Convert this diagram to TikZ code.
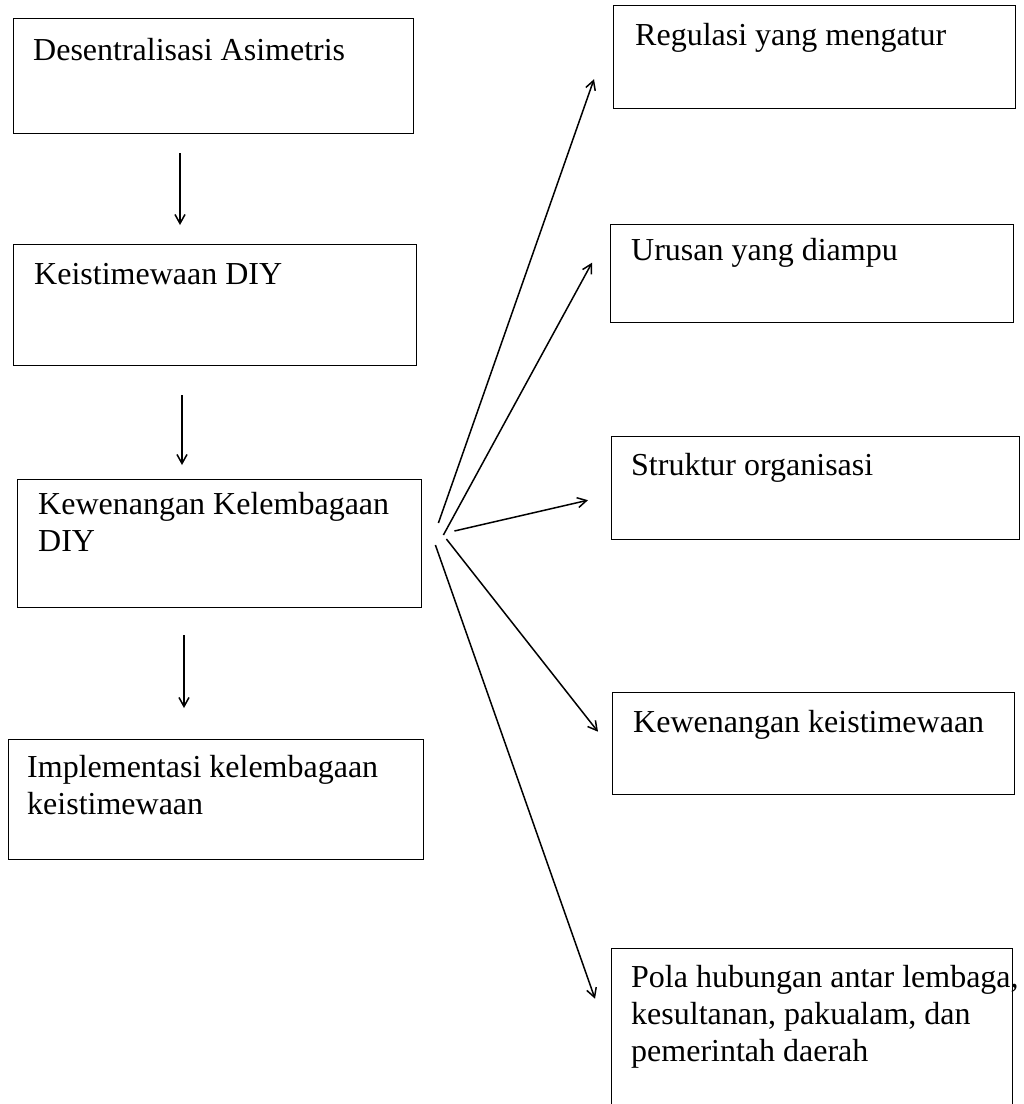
\documentclass[tikz,border=0pt]{standalone}
\usepackage{fontspec}
\setmainfont{Liberation Serif}
\usetikzlibrary{arrows.meta,calc}
\begin{document}
\begin{tikzpicture}[x=1pt,y=-1pt,
  box/.style={draw=black,line width=1.4pt,rectangle,inner sep=0pt,anchor=north west},
  txt/.style={anchor=north west,inner sep=0pt,align=left,font=\fontsize{32}{37}\selectfont},
  arr/.style={line width=1.5pt,-{Straight Barb[length=9pt,width=10pt,line width=1.5pt]}}]
\useasboundingbox (0,0) rectangle (1024,1104);
% left column
\node[box,minimum width=400pt,minimum height=115pt] (A) at (13,18) {};
\node[txt] (At) at (33,38) {Desentralisasi Asimetris};
\node[box,minimum width=403pt,minimum height=121pt] (B) at (13,244) {};
\node[txt] (Bt) at (34,263) {Keistimewaan DIY};
\node[box,minimum width=404pt,minimum height=128pt] (C) at (17,479) {};
\node[txt] (Ct) at (38,492) {Kewenangan Kelembagaan\\DIY};
\node[box,minimum width=415pt,minimum height=120pt] (D) at (8,739) {};
\node[txt] (Dt) at (27,755) {Implementasi kelembagaan\\keistimewaan};
% right column
\node[box,minimum width=402pt,minimum height=103pt] (R1) at (613,5) {};
\node[txt] (R1t) at (635,23) {Regulasi yang mengatur};
\node[box,minimum width=403pt,minimum height=98pt] (R2) at (610,224) {};
\node[txt] (R2t) at (631,238) {Urusan yang diampu};
\node[box,minimum width=408pt,minimum height=103pt] (R3) at (611,436) {};
\node[txt] (R3t) at (631,453) {Struktur organisasi};
\node[box,minimum width=402pt,minimum height=102pt] (R4) at (612,692) {};
\node[txt] (R4t) at (633,710) {Kewenangan keistimewaan};
\node[box,minimum width=401pt,minimum height=170pt] (R5) at (611,948) {};
\node[txt] (R5t) at (631,965) {Pola hubungan antar lembaga,\\kesultanan, pakualam, dan\\pemerintah daerah};
% vertical arrows
\draw[arr] ($(A.south west)+(167,19)$) -- ($(B.north west)+(167,-19)$);
\draw[arr] ($(B.south west)+(169,29)$) -- ($(C.north west)+(165,-14)$);
\draw[arr] ($(C.south west)+(167,27)$) -- ($(D.north west)+(176,-31)$);
% fan arrows
\draw[arr] ($(C.north east)+(16,44)$) -- ($(R1.west)+(-19,22)$);
\draw[arr] ($(C.north east)+(21,56)$) -- ($(R2.west)+(-18,-11)$);
\draw[arr] ($(C.north east)+(32,52)$) -- ($(R3.west)+(-23,12)$);
\draw[arr] ($(C.north east)+(24,60)$) -- ($(R4.west)+(-14,-12)$);
\draw[arr] ($(C.north east)+(13,66)$) -- ($(R5.west)+(-16,-35)$);
\end{tikzpicture}
\end{document}
